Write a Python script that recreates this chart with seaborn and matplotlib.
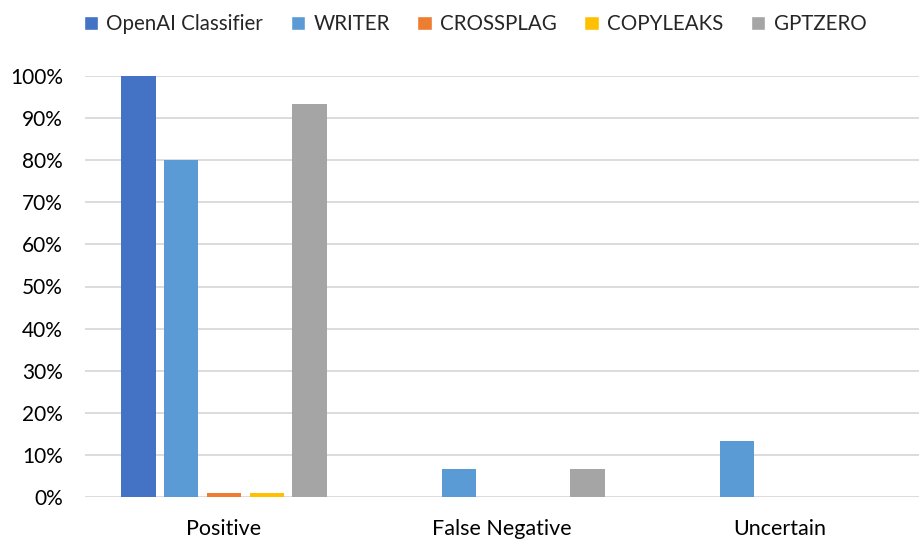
import matplotlib
matplotlib.use("Agg")
import matplotlib.pyplot as plt
import seaborn as sns
import pandas as pd
from matplotlib.ticker import FuncFormatter
from matplotlib.patches import Patch

categories = ["Positive", "False Negative", "Uncertain"]
series = ["OpenAI Classifier", "WRITER", "CROSSPLAG", "COPYLEAKS", "GPTZERO"]
openai = [100, 0, 0]
writer = [80, 6.67, 13.33]
crossplag = [1, 0, 0]
copyleaks = [1, 0, 0]
gptzero = [93.33, 6.67, 0]
colors = ["#4472C4", "#5B9BD5", "#ED7D31", "#FFC000", "#A5A5A5"]

vals = [openai, writer, crossplag, copyleaks, gptzero]
rows = []
for s, v in zip(series, vals):
    for c, x in zip(categories, v):
        rows.append({"category": c, "series": s, "value": x})
df = pd.DataFrame(rows)

sns.set_theme(style="white")
plt.rcParams["font.family"] = ["Lato", "DejaVu Sans"]

fig = plt.figure(figsize=(9.19, 5.39), dpi=100)
ax = fig.add_axes([85/919, 1-497/539, 1-85/919, (497-76)/539])

sns.barplot(data=df, x="category", y="value", hue="series", order=categories,
            hue_order=series, palette=colors, width=0.77, gap=0.2,
            linewidth=0, saturation=1, ax=ax, legend=False)

ax.set_ylim(0, 100)
ax.set_xlim(-0.5, 2.5)
ax.set_yticks(range(0, 101, 10))
ax.yaxis.set_major_formatter(FuncFormatter(lambda v, p: f"{int(v)}%"))
ax.grid(axis="y", color="#D9D9D9", linewidth=1.3)
ax.set_axisbelow(True)
for sp in ax.spines.values():
    sp.set_visible(False)
ax.set_xlabel("")
ax.set_ylabel("")
ax.tick_params(axis="both", length=0, colors="#000000")
ax.tick_params(axis="x", pad=16, labelsize=15.5)
ax.tick_params(axis="y", pad=16, labelsize=15)

handles = [Patch(facecolor=c, label=s) for s, c in zip(series, colors)]
fig.legend(handles=handles, loc="center", bbox_to_anchor=(475/919, 1-24/539),
           ncol=5, frameon=False, fontsize=14.8, handlelength=0.7, handleheight=0.7,
           handletextpad=0.4, columnspacing=1.35)

fig.savefig("out.png", dpi=100)
